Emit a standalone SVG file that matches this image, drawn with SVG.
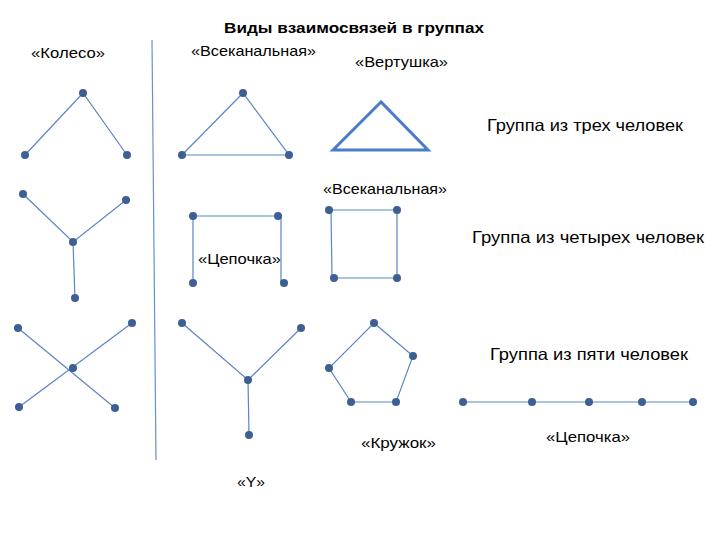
<svg xmlns="http://www.w3.org/2000/svg" width="720" height="540" viewBox="0 0 720 540">
<style>
.l{stroke:#5b85c4;stroke-width:1.2;fill:none}
.t{stroke:#4a7cc8;stroke-width:3;fill:none}
.n{fill:#3d5f94}
text{font-family:"Liberation Sans",Arial,sans-serif;font-size:15px;fill:#000}
.g{font-size:16.5px}
</style>
<rect width="720" height="540" fill="#fff"/>
<text x="224" y="33" font-weight="bold" font-size="16" textLength="260" lengthAdjust="spacingAndGlyphs">Виды взаимосвязей в группах</text>
<text x="31" y="58" textLength="74" lengthAdjust="spacingAndGlyphs">«Колесо»</text>
<text x="191" y="56" textLength="125" lengthAdjust="spacingAndGlyphs">«Всеканальная»</text>
<text x="355" y="67" textLength="93" lengthAdjust="spacingAndGlyphs">«Вертушка»</text>
<text class="g" x="487" y="131" textLength="196" lengthAdjust="spacingAndGlyphs">Группа из трех человек</text>
<text x="323" y="194" textLength="124" lengthAdjust="spacingAndGlyphs">«Всеканальная»</text>
<text class="g" x="472" y="243" textLength="232" lengthAdjust="spacingAndGlyphs">Группа из четырех человек</text>
<text x="198" y="264" textLength="83" lengthAdjust="spacingAndGlyphs">«Цепочка»</text>
<text class="g" x="490" y="360" textLength="198" lengthAdjust="spacingAndGlyphs">Группа из пяти человек</text>
<text x="361" y="448" textLength="75" lengthAdjust="spacingAndGlyphs">«Кружок»</text>
<text x="546" y="442" textLength="84" lengthAdjust="spacingAndGlyphs">«Цепочка»</text>
<text x="237" y="487" textLength="28" lengthAdjust="spacingAndGlyphs">«Y»</text>
<g id="connectors">
<line x1="152" y1="40" x2="156" y2="460" stroke="#6b8fc8" stroke-width="1.2"/>
<polyline class="l" points="25,155 83,93 127,155"/>
<polygon class="l" points="243,93 182,155 289,155"/>
<polygon class="t" points="381,102 333,150 428,150"/>
<polyline class="l" points="23,194 73,242 126,200"/>
<line class="l" x1="73" y1="242" x2="75" y2="298"/>
<polyline class="l" points="193,283 193,216 281,216 281,283"/>
<polygon class="l" points="331,210 397,210 397,278 332,278"/>
<line class="l" x1="18" y1="328" x2="115" y2="408"/>
<line class="l" x1="132" y1="323" x2="19" y2="407"/>
<polyline class="l" points="182,323 248,380 301,328"/>
<line class="l" x1="248" y1="380" x2="249" y2="435"/>
<polygon class="l" points="374,323 413,356 396,402 351,402 329,368"/>
<line class="l" x1="463" y1="402" x2="693" y2="402"/>
</g>
<g id="nodes" class="n">
<g id="wheel3"><circle cx="83" cy="93" r="4"/><circle cx="25" cy="155" r="4"/><circle cx="127" cy="155" r="4"/></g>
<g id="all3"><circle cx="243" cy="93" r="4"/><circle cx="182" cy="155" r="4"/><circle cx="289" cy="155" r="4"/></g>
<g id="wheel4"><circle cx="23" cy="194" r="4"/><circle cx="126" cy="200" r="4"/><circle cx="73" cy="242" r="4"/><circle cx="75" cy="298" r="4"/></g>
<g id="chain4"><circle cx="193" cy="216" r="4"/><circle cx="278" cy="216" r="4"/><circle cx="193" cy="283" r="4"/><circle cx="284" cy="283" r="4"/></g>
<g id="all4"><circle cx="329" cy="210" r="4"/><circle cx="397" cy="210" r="4"/><circle cx="334" cy="278" r="4"/><circle cx="397" cy="278" r="4"/></g>
<g id="wheel5"><circle cx="18" cy="328" r="4"/><circle cx="132" cy="323" r="4"/><circle cx="73" cy="368" r="4"/><circle cx="19" cy="407" r="4"/><circle cx="115" cy="408" r="4"/></g>
<g id="y5"><circle cx="182" cy="323" r="4"/><circle cx="301" cy="328" r="4"/><circle cx="248" cy="380" r="4"/><circle cx="249" cy="435" r="4"/></g>
<g id="circle5"><circle cx="374" cy="323" r="4"/><circle cx="413" cy="356" r="4"/><circle cx="396" cy="402" r="4"/><circle cx="351" cy="402" r="4"/><circle cx="329" cy="368" r="4"/></g>
<g id="chain5"><circle cx="463" cy="402" r="4"/><circle cx="532" cy="402" r="4"/><circle cx="589" cy="402" r="4"/><circle cx="642" cy="402" r="4"/><circle cx="693" cy="402" r="4"/></g>
</g>
</svg>
